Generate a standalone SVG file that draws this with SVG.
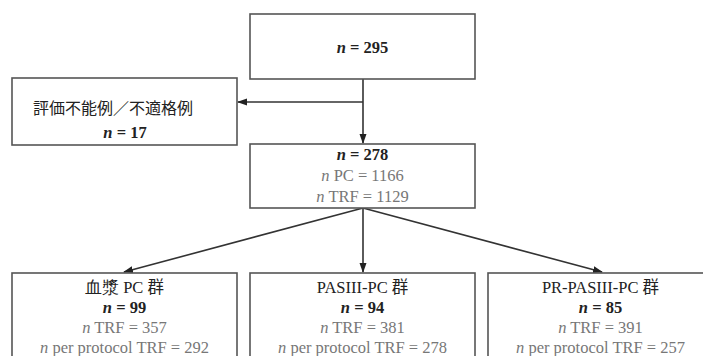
<svg xmlns="http://www.w3.org/2000/svg" width="703" height="356" viewBox="0 0 703 356">
<style>
.box{fill:#fff;stroke:#555;stroke-width:1.6}
text{font-family:"Liberation Serif","DejaVu Serif",serif;font-size:16.5px;text-anchor:middle}
.b{font-weight:bold;fill:#222}
.g{fill:#777}
.j{fill:#222}
.e{fill:none;stroke:#333;stroke-width:1.6}
</style>
<defs>
<marker id="ah" markerWidth="10" markerHeight="8" refX="9" refY="4" orient="auto" markerUnits="userSpaceOnUse">
<path d="M0,0.5 L10,4 L0,7.5 Z" fill="#222"/>
</marker>
</defs>
<rect width="703" height="356" fill="#fff"/>
<g id="connectors">
<line class="e" x1="363" y1="79" x2="363" y2="143" marker-end="url(#ah)"/>
<line class="e" x1="363" y1="102" x2="238" y2="102" marker-end="url(#ah)"/>
<line class="e" x1="363" y1="208" x2="124" y2="272" marker-end="url(#ah)"/>
<line class="e" x1="363" y1="208" x2="363" y2="272" marker-end="url(#ah)"/>
<line class="e" x1="363" y1="208" x2="602" y2="272" marker-end="url(#ah)"/>
</g>
<g id="n295">
<rect class="box" x="250" y="14" width="225" height="65"/>
<text x="362.5" y="53" class="b"><tspan font-style="italic">n</tspan> = 295</text>
</g>
<g id="excluded">
<rect class="box" x="12" y="78" width="225" height="67"/>
<text x="113" y="114" class="j" style="font-family:'Noto Sans CJK JP',sans-serif;font-size:16px">評価不能例／不適格例</text>
<text x="125" y="138" class="b"><tspan font-style="italic">n</tspan> = 17</text>
</g>
<g id="n278">
<rect class="box" x="250" y="144" width="225" height="64"/>
<text x="362.5" y="160" class="b"><tspan font-style="italic">n</tspan> = 278</text>
<text x="362.5" y="181" class="g"><tspan font-style="italic">n</tspan> PC = 1166</text>
<text x="362.5" y="202" class="g"><tspan font-style="italic">n</tspan> TRF = 1129</text>
</g>
<g id="plasma">
<rect class="box" x="12" y="273" width="225" height="100"/>
<text x="124.5" y="293" class="j">血漿 PC <tspan style="font-family:'Noto Sans CJK JP',sans-serif">群</tspan></text>
<text x="124.5" y="313" class="b"><tspan font-style="italic">n</tspan> = 99</text>
<text x="124.5" y="333" class="g"><tspan font-style="italic">n</tspan> TRF = 357</text>
<text x="124.5" y="353" class="g"><tspan font-style="italic">n</tspan> per protocol TRF = 292</text>
</g>
<g id="pasiii">
<rect class="box" x="250" y="273" width="225" height="100"/>
<text x="362.5" y="293" class="j">PASIII-PC <tspan style="font-family:'Noto Sans CJK JP',sans-serif">群</tspan></text>
<text x="362.5" y="313" class="b"><tspan font-style="italic">n</tspan> = 94</text>
<text x="362.5" y="333" class="g"><tspan font-style="italic">n</tspan> TRF = 381</text>
<text x="362.5" y="353" class="g"><tspan font-style="italic">n</tspan> per protocol TRF = 278</text>
</g>
<g id="prpasiii">
<rect class="box" x="488" y="273" width="225" height="100"/>
<text x="600.5" y="293" class="j">PR-PASIII-PC <tspan style="font-family:'Noto Sans CJK JP',sans-serif">群</tspan></text>
<text x="600.5" y="313" class="b"><tspan font-style="italic">n</tspan> = 85</text>
<text x="600.5" y="333" class="g"><tspan font-style="italic">n</tspan> TRF = 391</text>
<text x="600.5" y="353" class="g"><tspan font-style="italic">n</tspan> per protocol TRF = 257</text>
</g>
</svg>
